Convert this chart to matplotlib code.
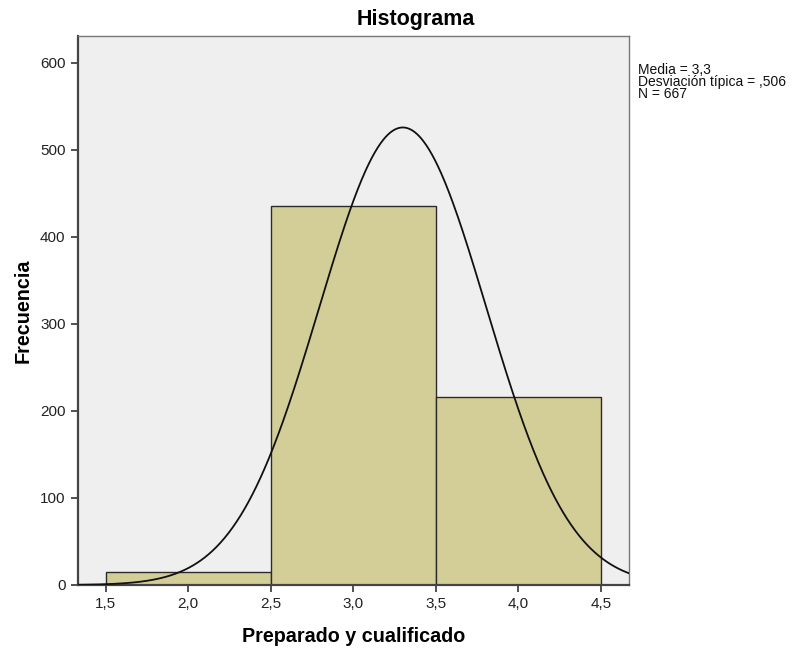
import numpy as np
import matplotlib
matplotlib.use("Agg")
import matplotlib.pyplot as plt

plt.rcParams['font.family'] = ['Liberation Sans', 'DejaVu Sans']

# Histogram data: "Preparado y cualificado"
bin_edges = [1.5, 2.5, 3.5, 4.5]
counts = [15, 436, 216]
mean = 3.3
std = 0.506
n = 667
xticks = [1.5, 2.0, 2.5, 3.0, 3.5, 4.0, 4.5]
xtick_labels = ["1,5", "2,0", "2,5", "3,0", "3,5", "4,0", "4,5"]
yticks = [0, 100, 200, 300, 400, 500, 600]

fig = plt.figure(figsize=(7.95, 6.5), dpi=100)
ax = fig.add_axes([78 / 795, 1 - 585 / 650, (628.5 - 78) / 795, (585 - 36) / 650])
ax.set_facecolor('#EFEFEF')

widths = np.diff(bin_edges)
ax.bar(bin_edges[:-1], counts, width=widths, align='edge',
       color='#D3CE97', edgecolor='#2B2B2B', linewidth=1.0, zorder=2)

# Normal curve scaled to counts
bw = widths[0]
xs = np.linspace(1.2, 4.8, 600)
ys = n * bw / (std * np.sqrt(2 * np.pi)) * np.exp(-0.5 * ((xs - mean) / std) ** 2)
ax.plot(xs, ys, color='#111111', linewidth=1.3, zorder=3)

ax.set_xlim(1.333, 4.667)
ax.set_ylim(0, 631)
ax.set_xticks(xticks)
ax.set_xticklabels(xtick_labels)
ax.set_yticks(yticks)
ax.tick_params(axis='both', direction='out', length=5, width=1.2,
               color='#333333', labelsize=11, labelcolor='#222222', pad=4)

for side in ['left', 'bottom']:
    ax.spines[side].set_color('#444444')
    ax.spines[side].set_linewidth(1.6)
for side in ['top', 'right']:
    ax.spines[side].set_color('#777777')
    ax.spines[side].set_linewidth(1.0)

fig.text(416 / 795, 1 - 19 / 650, 'Histograma', fontsize=15.5, fontweight='bold',
         ha='center', va='center')
ax.set_xlabel('Preparado y cualificado', fontsize=14.2, fontweight='bold', labelpad=11)
ax.set_ylabel('Frecuencia', fontsize=14.2, fontweight='bold', labelpad=5)

fig.text(638 / 795, 1 - 63 / 650,
         'Media = 3,3\nDesviación típica = ,506\nN = 667',
         fontsize=10.0, va='top', ha='left', linespacing=0.8, color='#111111')

fig.savefig('out.png', dpi=100)
